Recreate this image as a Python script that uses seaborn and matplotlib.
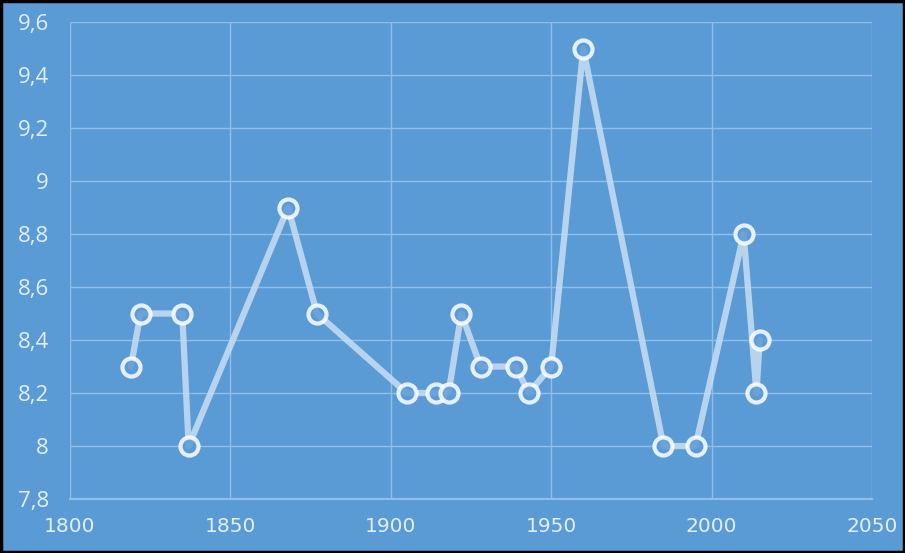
import matplotlib
matplotlib.use("Agg")
import matplotlib.pyplot as plt
import matplotlib.ticker as mticker
import numpy as np
import pandas as pd
import seaborn as sns

# data
years = [1819, 1822, 1835, 1837, 1868, 1877, 1905, 1914, 1918, 1922,
         1928, 1939, 1943, 1950, 1960, 1985, 1995, 2010, 2014, 2015]
values = [8.3, 8.5, 8.5, 8.0, 8.9, 8.5, 8.2, 8.2, 8.2, 8.5,
          8.3, 8.3, 8.2, 8.3, 9.5, 8.0, 8.0, 8.8, 8.2, 8.4]
x_ticks = [1800, 1850, 1900, 1950, 2000, 2050]
y_ticks = [7.8, 8.0, 8.2, 8.4, 8.6, 8.8, 9.0, 9.2, 9.4, 9.6]

df = pd.DataFrame({"year": years, "value": values})

bg = "#5B9BD5"
grid_c = "#8DBFEA"
text_c = "#E2EEF9"

sns.set_theme(style="white")
plt.rcParams["font.family"] = ["Open Sans", "DejaVu Sans"]

fig = plt.figure(figsize=(9.05, 5.53), dpi=100, facecolor=bg)
ax = fig.add_axes([0.0773, 0.0976, 0.8862, 0.8625])
ax.set_facecolor(bg)

sns.lineplot(data=df, x="year", y="value", ax=ax, sort=False,
             color="#C9DEF2", lw=4.5, alpha=0.85,
             marker="o", markersize=13, markerfacecolor=bg,
             markeredgecolor="white", markeredgewidth=3)

ax.set_xlim(1800, 2050)
ax.set_ylim(7.8, 9.6)
ax.set_xticks(x_ticks)
ax.set_yticks(y_ticks)
ax.yaxis.set_major_formatter(mticker.FuncFormatter(lambda v, p: f"{v:g}".replace(".", ",")))
ax.grid(True, color=grid_c, lw=1)
ax.set_axisbelow(True)
for s in ["top", "right", "left"]:
    ax.spines[s].set_visible(False)
ax.spines["bottom"].set_color(grid_c)
ax.spines["bottom"].set_linewidth(1.5)
ax.tick_params(axis="x", colors=grid_c, length=5, width=1.2, direction="out",
               labelcolor=text_c, labelsize=14.5, pad=8)
ax.tick_params(axis="y", length=0, labelcolor=text_c, labelsize=16, pad=15)
for lab in ax.get_xticklabels():
    lab.set_family("DejaVu Sans")
ax.set_xlabel("")
ax.set_ylabel("")

# black frame around the whole picture
fig.patches.append(plt.Rectangle((0.001, 0.002), 0.998, 0.996, transform=fig.transFigure,
                                 fill=False, edgecolor="black", lw=2.5))

fig.savefig("out.png", dpi=100, facecolor=bg)
